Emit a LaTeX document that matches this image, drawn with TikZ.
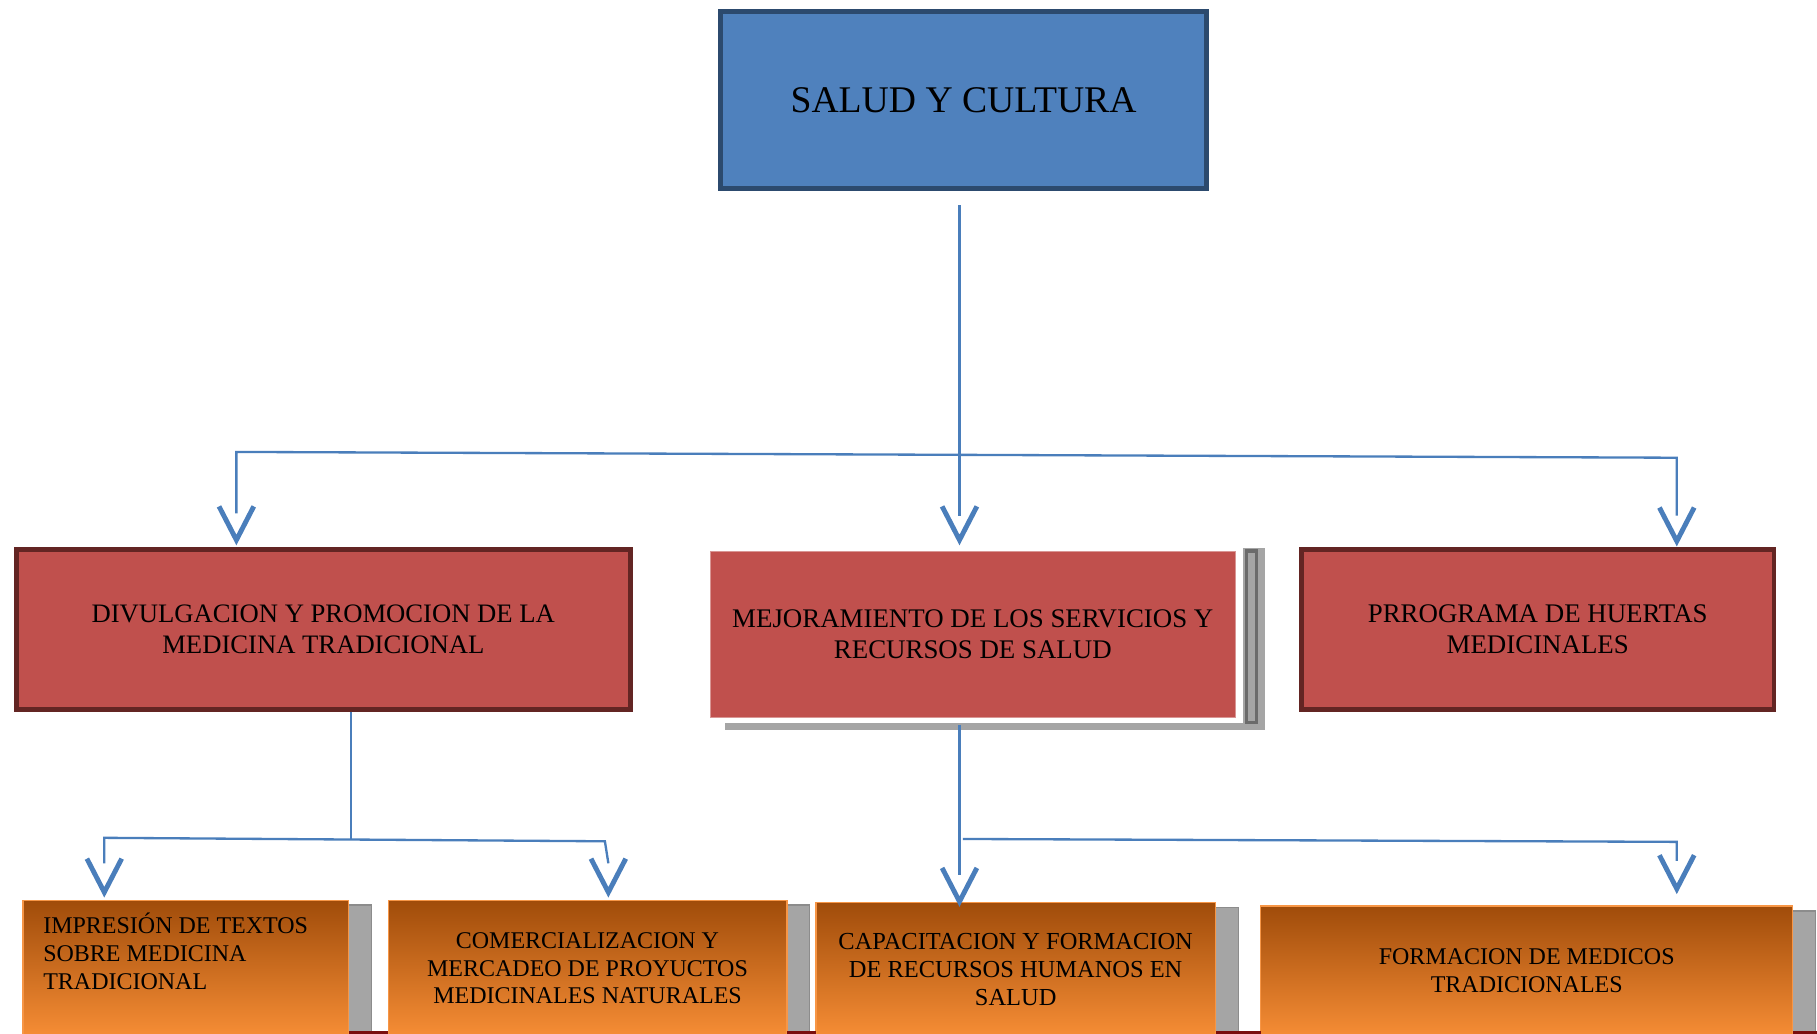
\documentclass[tikz,border=0pt]{standalone}
\usepackage{fontspec}
\setmainfont{Liberation Serif}
\usetikzlibrary{shadows,calc}
\definecolor{topfill}{HTML}{4F81BD}
\definecolor{topdraw}{HTML}{2C4A6E}
\definecolor{redfill}{HTML}{C0504D}
\definecolor{reddraw}{HTML}{632523}
\definecolor{conncol}{HTML}{4A7EBB}
\definecolor{orgtop}{HTML}{A04C0A}
\definecolor{orgbot}{HTML}{F68D35}
\definecolor{orgdraw}{HTML}{F79646}
\definecolor{shgray}{HTML}{A5A5A5}
\definecolor{shdark}{HTML}{6B6B6B}
\definecolor{maroonc}{HTML}{7A0E0E}
\begin{document}
\begin{tikzpicture}[x=0.5pt,y=-0.5pt,
  topbox/.style={draw=topdraw, line width=2.15pt, fill=topfill, minimum width=209.5pt, minimum height=76.5pt, font=\fontsize{16.25}{19}\selectfont, inner sep=0pt},
  redbox/.style={draw=reddraw, line width=2pt, fill=redfill, minimum height=69pt, font=\fontsize{11.6}{13.5}\selectfont, align=center, inner sep=0pt},
  orgbox/.style={draw=orgdraw, line width=0.6pt, top color=orgtop, bottom color=orgbot, font=\fontsize{10.35}{12}\selectfont, align=center, inner sep=0pt, general shadow={shadow xshift=9.75pt, shadow yshift=-2pt, fill=shgray, draw=gray!90}},
  otext/.style={font=\fontsize{10.35}{12}\selectfont, inner sep=0pt},
  conn/.style={draw=conncol, line width=1pt},
  vhead/.style={draw=conncol, line width=2.1pt, miter limit=10},
  pics/vtip/.style={code={\draw[vhead] (-15,-29) -- (0,0) -- (15,-29);}}
]
\useasboundingbox (0,0) rectangle (1568,892);
\fill[white] (0,0) rectangle (1568,892);
\clip (0,0) rectangle (1568,892);

% top box
\node[topbox] (top) at (831.5,86.5) {SALUD Y CULTURA};

% second level
\node[redbox, minimum width=265pt, font=\fontsize{11.5}{13.5}\selectfont] (b1) at (279,543) {DIVULGACION Y PROMOCION DE LA\\MEDICINA TRADICIONAL};

% frame shadow of middle box
\fill[shgray] (626,624) rectangle (1092,630);
\fill[shgray] (1073,473) rectangle (1092,630);
\draw[shdark, line width=1.5pt] (1075.5,475.5) rectangle (1084.5,623.5);

\node[redbox, draw=redfill!60!white, line width=0.5pt, minimum width=226.5pt, minimum height=71.5pt] (b2) at (839.5,547.5) {MEJORAMIENTO DE LOS SERVICIOS Y\\RECURSOS DE SALUD};
\node[redbox, minimum width=204pt] (b3) at (1327,543) {PRROGRAMA DE HUERTAS\\MEDICINALES};

% third level
\node[orgbox, minimum width=140.5pt, minimum height=58.5pt] (o1) at (160.5,835.5) {};
\node[otext, align=left, anchor=west] (o1t) at (37,821) {IMPRESIÓN DE TEXTOS\\SOBRE MEDICINA\\TRADICIONAL};
\node[orgbox, minimum width=172pt, minimum height=58.5pt] (o2) at (507,835.5) {COMERCIALIZACION Y\\MERCADEO DE PROYUCTOS\\MEDICINALES NATURALES};
\node[orgbox, minimum width=172.5pt, minimum height=57.5pt, font=\fontsize{10.55}{12}\selectfont] (o3) at (876.5,836.5) {CAPACITACION Y FORMACION\\DE RECURSOS HUMANOS EN\\SALUD};
\node[orgbox, minimum width=229.5pt, minimum height=56pt] (o4) at (1317.5,838) {FORMACION DE MEDICOS\\TRADICIONALES};

% thin dark strips at the lower edge
\fill[maroonc] (301,889.5) rectangle (335,893);
\fill[maroonc] (679,889.5) rectangle (704,893);
\fill[maroonc] (1049,889.5) rectangle (1088,893);
\fill[maroonc] (1547,889.5) rectangle (1568,893);

% coordinates
\coordinate (t1) at (204,466);
\coordinate (t2) at (828,466);
\coordinate (t3) at (1447,467);
\coordinate (t4) at (90,770);
\coordinate (t5) at (525,770);
\coordinate (t6) at (828,778);
\coordinate (t7) at (1447,767);
\coordinate (h1) at (204,390);
\coordinate (h3) at (1447,395);
\coordinate (j1) at (303,724.5);
\coordinate (h4) at (90,723);
\coordinate (h5) at (522,726);
\coordinate (h6) at (831,724);
\coordinate (h7) at (1447,726.5);
\coordinate (s0) at ([yshift=-6pt]top.south);
\coordinate (s2) at ([yshift=-3pt]b2.south);

% connectors
\draw[conn] (s0 -| t2) -- ([yshift=10.5pt]t2);
\draw[conn] ([yshift=11.5pt]t1) -- (h1) -- (h3) -- ([yshift=11pt]t3);
\draw[conn] (b1.south -| j1) -- (j1);
\draw[conn] ([yshift=12.5pt]t4) -- (h4) -- (h5) -- ([yshift=12.5pt]t5);
\draw[conn] (s2 -| t6) -- ([yshift=11.5pt]t6);
\draw[conn] (h6) -- (h7) -- ([yshift=12pt]t7);

% arrow heads
\pic at (t1) {vtip};
\pic at (t2) {vtip};
\pic at (t3) {vtip};
\pic at (t4) {vtip};
\pic at (t5) {vtip};
\pic at (t6) {vtip};
\pic at (t7) {vtip};
\end{tikzpicture}
\end{document}
